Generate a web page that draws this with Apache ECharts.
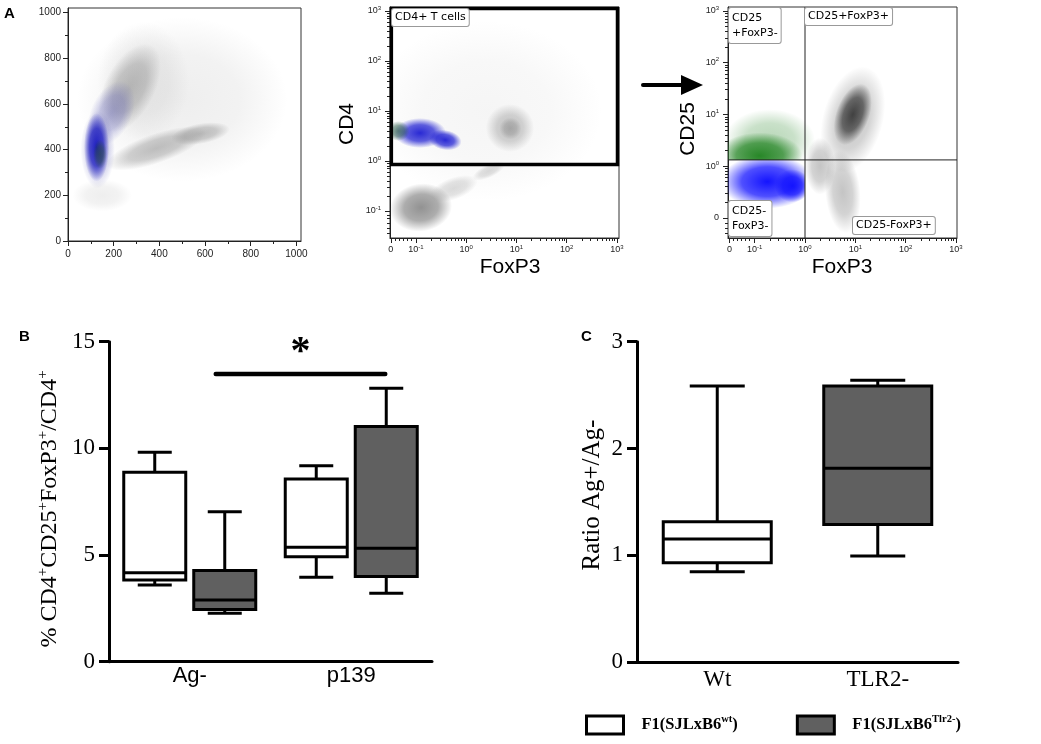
<!DOCTYPE html>
<html>
<head>
<meta charset="utf-8">
<script src="https://cdn.jsdelivr.net/npm/echarts@6/dist/echarts.min.js"></script>
<style>
	html, body { margin: 0; padding: 0; background: #fff; }
	#main { width: 1041px; height: 744px; }
</style>
</head>
<body>
<div id="main"></div>
<script>
	const SANS = 'Liberation Sans, Arial, sans-serif';
	const SERIF = 'Liberation Serif, Times New Roman, serif';
	const FLOW = 'DejaVu Sans, Verdana, sans-serif';

	// ---- panel A: cell clouds, [x, y, rx, ry, tilt deg] in axis units
	// A1 is linear 0..1000, A2/A3 are in decades (0 = 10^0)
	const a1Haze = [[500, 620, 460, 360, 0], [330, 700, 200, 260, 0], [150, 200, 130, 70, 0]];
	const a1Gray = [[270, 670, 110, 210, -27], [385, 405, 230, 65, 19], [580, 470, 130, 45, 10]];
	const a1BlueHalo = [[190, 560, 90, 150, -25], [130, 400, 75, 170, 0]];
	const a1Blue = [[125, 410, 55, 150, 0]];
	const a1Green = [[140, 380, 30, 65, 0]];

	const a2Haze = [[0.4, 1.0, 2.3, 1.8, 0]];
	const a2Neg = [[-0.9, -0.93, 0.62, 0.48, 8]];
	const a2NegTail = [[-0.25, -0.55, 0.5, 0.22, 20], [0.45, -0.2, 0.35, 0.13, 25]];
	const a2Blue = [[-0.92, 0.56, 0.52, 0.3, 0], [-0.42, 0.42, 0.33, 0.2, -10]];
	const a2Teal = [[-1.35, 0.6, 0.22, 0.2, 0]];
	const a2Pos = [[0.87, 0.66, 0.48, 0.48, 0], [0.88, 0.65, 0.22, 0.22, 0]];

	const a3Blue = [[-0.75, -0.3, 0.92, 0.52, 0], [-0.25, -0.38, 0.35, 0.32, 0]];
	const a3Green = [[-0.9, 0.2, 0.85, 0.45, 0]];
	const a3GreenHalo = [[-0.7, 0.5, 0.9, 0.6, 0]];
	const a3Black = [[0.95, 1.0, 0.33, 0.62, -20]];
	const a3BlackHalo = [[0.95, 0.9, 0.6, 1.05, -15], [0.75, -0.5, 0.35, 0.8, 5], [0.3, 0.0, 0.3, 0.55, 0]];

	// gates
	const a2Gate = [[-1.52, -0.1, 3.04, 3.08]];
	const a3Quad = [[0, 0.12]];

	// axis ticks
	const a1Ticks = [0, 200, 400, 600, 800, 1000];
	const a1Minor = [100, 300, 500, 700, 900];
	const logVals = [-1.5, -1, 0, 1, 2, 3];
	const logText = ['0', '-1', '0', '1', '2', '3'];
	const a2yVals = [-1, 0, 1, 2, 3];
	const a2yText = ['-1', '0', '1', '2', '3'];
	const a3yVals = [-1, 0, 1, 2, 3];
	const a3yText = ['0', '0', '1', '2', '3'];

	// ---- panel B: [category, min, q1, median, q3, max]
	const bCats = ['Ag-', 'p139'];
	const bTicks = [0, 5, 10, 15];
	const bWt = [[0, 3.6, 3.83, 4.17, 8.88, 9.82], [1, 3.96, 4.92, 5.36, 8.56, 9.19]];
	const bTlr2 = [[0, 2.27, 2.45, 2.89, 4.27, 7.03], [1, 3.21, 3.99, 5.32, 11.02, 12.82]];
	const bSig = [[0, 1, 13.49]];

	// ---- panel C
	const cCats = ['Wt', 'TLR2-'];
	const cTicks = [0, 1, 2, 3];
	const cWt = [[0, 0.848, 0.932, 1.153, 1.315, 2.585]];
	const cTlr2 = [[1, 0.994, 1.29, 1.815, 2.585, 2.64]];

	let chart = echarts.init(document.getElementById('main'));

	function logMinor(from, to, extra) {
		let out = extra.slice();
		for (let d = from; d < to; d++) {
			for (let k = 2; k < 10; k++) out.push(d + Math.log10(k));
		}
		return out;
	}

	function pick(vals, texts, is0) {
		return v => {
			let i = vals.findIndex(t => Math.abs(t - v) < 1e-6);
			if (i < 0) return '';
			if (is0 && is0(vals[i])) return '{m|0}';
			return '{m|10}{e|' + texts[i] + '}';
		};
	}

	const flowRich = {
		m: { fontSize: 9, fontFamily: SANS, color: '#222', lineHeight: 12 },
		e: { fontSize: 6, fontFamily: SANS, color: '#222', lineHeight: 6, verticalAlign: 'top' }
	};

	// major + minor axis pair for one side of a flow plot
	function flowAxes(grid, pos, min, max, labelVals, fmt, minor, margin, rich) {
		let major = {
			type: 'value', gridIndex: grid, position: pos, min: min, max: max,
			axisLine: { show: true, onZero: false, lineStyle: { color: '#222', width: 1 } },
			axisTick: { show: true, length: 5, customValues: labelVals, lineStyle: { color: '#222' } },
			axisLabel: { show: true, customValues: labelVals, formatter: fmt, margin: margin,
				fontSize: 10, fontFamily: SANS, color: '#222', rich: rich },
			splitLine: { show: false }
		};
		let minorAxis = {
			type: 'value', gridIndex: grid, position: pos, min: min, max: max,
			axisLine: { show: false, onZero: false },
			axisTick: { show: true, length: 3, customValues: minor, lineStyle: { color: '#222' } },
			axisLabel: { show: false },
			splitLine: { show: false }
		};
		return [major, minorAxis];
	}

	function rgba(rgb, a) {
		return 'rgba(' + rgb + ',' + a + ')';
	}

	// soft elliptical cloud for every [x, y, rx, ry, tilt] row
	function cloud(data, axis, rgb, alpha, clip) {
		return {
			type: 'custom', xAxisIndex: axis, yAxisIndex: axis, data: data, silent: true, clip: true, z: 1,
			renderItem(params, api) {
				let c = api.coord([api.value(0), api.value(1)]);
				let s = api.size([api.value(2), api.value(3)]);
				let el = {
					type: 'circle', x: c[0], y: c[1], scaleX: s[0], scaleY: s[1],
					rotation: api.value(4) * Math.PI / 180,
					shape: { cx: 0, cy: 0, r: 1 },
					style: {
						fill: {
							type: 'radial', x: 0.5, y: 0.5, r: 0.5,
							colorStops: [
								{ offset: 0, color: rgba(rgb, alpha) },
								{ offset: 0.55, color: rgba(rgb, alpha * 0.75) },
								{ offset: 1, color: rgba(rgb, 0) }
							]
						}
					}
				};
				if (!clip) return el;
				let p0 = api.coord(clip[0]);
				let p1 = api.coord(clip[1]);
				return {
					type: 'group',
					clipPath: { type: 'rect', shape: {
						x: Math.min(p0[0], p1[0]), y: Math.min(p0[1], p1[1]),
						width: Math.abs(p1[0] - p0[0]), height: Math.abs(p1[1] - p0[1]) } },
					children: [el]
				};
			}
		};
	}

	// box & whiskers drawn through the category / value scales
	function boxes(name, data, axis, offset, boxW, capW, fill) {
		return {
			type: 'custom', name: name, xAxisIndex: axis, yAxisIndex: axis, data: data, z: 3,
			itemStyle: { color: fill, borderColor: '#000', borderWidth: 3 },
			encode: { x: 0, y: [1, 2, 3, 4, 5] },
			renderItem(params, api) {
				let x = api.coord([api.value(0), 0])[0] + offset;
				let y = [1, 2, 3, 4, 5].map(i => api.coord([api.value(0), api.value(i)])[1]);
				let ln = { stroke: '#000', lineWidth: 3 };
				return {
					type: 'group',
					children: [
						{ type: 'line', shape: { x1: x, y1: y[4], x2: x, y2: y[3] }, style: ln },
						{ type: 'line', shape: { x1: x - capW / 2, y1: y[4], x2: x + capW / 2, y2: y[4] }, style: ln },
						{ type: 'line', shape: { x1: x, y1: y[0], x2: x, y2: y[1] }, style: ln },
						{ type: 'line', shape: { x1: x - capW / 2, y1: y[0], x2: x + capW / 2, y2: y[0] }, style: ln },
						{ type: 'rect', shape: { x: x - boxW / 2, y: y[3], width: boxW, height: y[1] - y[3] },
							style: { fill: fill, stroke: '#000', lineWidth: 3 } },
						{ type: 'line', shape: { x1: x - boxW / 2, y1: y[2], x2: x + boxW / 2, y2: y[2] }, style: ln }
					]
				};
			}
		};
	}

	let a1x = flowAxes(0, 'bottom', 0, 1020, a1Ticks, v => String(v), a1Minor, 8, null);
	let a1y = flowAxes(0, 'left', 0, 1020, a1Ticks, v => String(v), a1Minor, 7, null);
	let a2x = flowAxes(1, 'bottom', -1.517, 3.04, logVals, pick(logVals, logText, v => v < -1.2), logMinor(-1, 3, [-1.42, -1.34, -1.26, -1.18, -1.1]), 6, flowRich);
	let a2y = flowAxes(1, 'left', -1.54, 3.08, a2yVals, pick(a2yVals, a2yText), logMinor(-1, 3, [-1.45, -1.35, -1.25, -1.15, -1.08]), 9, flowRich);
	let a3x = flowAxes(2, 'bottom', -1.53, 3.02, logVals, pick(logVals, logText, v => v < -1.2), logMinor(-1, 3, [-1.42, -1.34, -1.26, -1.18, -1.1]), 6, flowRich);
	let a3y = flowAxes(2, 'left', -1.39, 3.077, a3yVals, pick(a3yVals, a3yText, v => v < -0.5), logMinor(-1, 3, [-1.3, -1.2, -1.1]), 9, flowRich);

	const boxAxisLine = { show: true, lineStyle: { color: '#000', width: 3 } };

	let option = {
		backgroundColor: '#fff',
		animation: false,
		grid: [
			{ left: 68, top: 8, width: 233, height: 233, show: true, borderColor: '#333', borderWidth: 1 },
			{ left: 390, top: 7, width: 229, height: 231, show: true, borderColor: '#333', borderWidth: 1 },
			{ left: 728, top: 7, width: 229, height: 231, show: true, borderColor: '#333', borderWidth: 1 },
			{ left: 109, top: 341.7, width: 323, height: 320 },
			{ left: 637, top: 341.7, width: 321, height: 320.6 }
		],
		xAxis: [
			...a1x, ...a2x, ...a3x,
			{
				type: 'category', gridIndex: 3, data: bCats,
				axisLine: boxAxisLine, axisTick: { show: false },
				axisLabel: { fontSize: 22, fontFamily: SANS, color: '#000', margin: 3 }
			},
			{
				type: 'category', gridIndex: 4, data: cCats,
				axisLine: boxAxisLine, axisTick: { show: false },
				axisLabel: { fontSize: 23, fontFamily: SERIF, color: '#000', margin: 6 }
			}
		],
		yAxis: [
			...a1y, ...a2y, ...a3y,
			{
				type: 'value', gridIndex: 3, min: 0, max: 15,
				axisLine: boxAxisLine,
				axisTick: { show: true, length: 10, customValues: bTicks, lineStyle: { color: '#000', width: 3 } },
				axisLabel: { customValues: bTicks, fontSize: 23, fontFamily: SERIF, color: '#000', margin: 14 },
				splitLine: { show: false }
			},
			{
				type: 'value', gridIndex: 4, min: 0, max: 3,
				axisLine: boxAxisLine,
				axisTick: { show: true, length: 10, customValues: cTicks, lineStyle: { color: '#000', width: 3 } },
				axisLabel: { customValues: cTicks, fontSize: 23, fontFamily: SERIF, color: '#000', margin: 14 },
				splitLine: { show: false }
			}
		],
		legend: {
			left: 580, top: 709, itemWidth: 37, itemHeight: 18, itemGap: 58,
			selectedMode: false,
			data: [
				{ name: 'wt', icon: 'rect', itemStyle: { color: '#fff', borderColor: '#000', borderWidth: 3 } },
				{ name: 'tlr2', icon: 'rect', itemStyle: { color: '#606060', borderColor: '#000', borderWidth: 3 } }
			],
			formatter: n => n === 'wt' ? '{f|F1(SJLxB6}{s|wt}{t|)}' : '{f|F1(SJLxB6}{s|Tlr2-}{t|)}',
			textStyle: {
				rich: {
					f: { fontFamily: SERIF, fontWeight: 'bold', fontSize: 16.5, color: '#000', lineHeight: 22, padding: [0, 0, 0, 13] },
					t: { fontFamily: SERIF, fontWeight: 'bold', fontSize: 16.5, color: '#000', lineHeight: 22 },
					s: { fontFamily: SERIF, fontWeight: 'bold', fontSize: 10.5, color: '#000', lineHeight: 12, verticalAlign: 'top' }
				}
			}
		},
		series: [
			// A1 (axis index 0 = major axes of grid 0)
			cloud(a1Haze, 0, '150,150,150', 0.16),
			cloud(a1Gray, 0, '120,120,120', 0.45),
			cloud(a1BlueHalo, 0, '60,60,170', 0.35),
			cloud(a1Blue, 0, '20,20,190', 0.95),
			cloud(a1Green, 0, '40,80,40', 0.55),
			// A2
			cloud(a2Haze, 2, '160,160,160', 0.1),
			cloud(a2Neg, 2, '140,140,140', 0.95),
			cloud(a2NegTail, 2, '150,150,150', 0.35),
			cloud(a2Pos, 2, '130,130,130', 0.45),
			cloud(a2Blue, 2, '30,30,210', 0.95),
			cloud(a2Teal, 2, '40,90,70', 0.7),
			// A3
			cloud(a3GreenHalo, 4, '50,140,50', 0.35, [[-1.6, 0.12], [0.3, 3.1]]),
			cloud(a3Green, 4, '40,135,40', 1, [[-1.6, 0.12], [0.3, 3.1]]),
			cloud(a3Blue, 4, '20,20,255', 1, [[-1.6, 0.12], [0, -1.4]]),
			cloud(a3BlackHalo, 4, '60,60,60', 0.3),
			cloud(a3Black, 4, '20,20,20', 0.75),
			{
				type: 'custom', xAxisIndex: 2, yAxisIndex: 2, data: a2Gate, silent: true, z: 5,
				renderItem(params, api) {
					let p0 = api.coord([api.value(0), api.value(1)]);
					let p1 = api.coord([api.value(2), api.value(3)]);
					return {
						type: 'rect',
						shape: { x: p0[0] + 1.5, y: p1[1] + 1.5, width: p1[0] - p0[0] - 3, height: p0[1] - p1[1] - 3 },
						style: { fill: 'none', stroke: '#000', lineWidth: 3.5 }
					};
				}
			},
			{
				type: 'custom', xAxisIndex: 4, yAxisIndex: 4, data: a3Quad, silent: true, z: 5,
				renderItem(params, api) {
					let c = api.coord([api.value(0), api.value(1)]);
					let lo = api.coord([-1.53, -1.39]);
					let hi = api.coord([3.02, 3.077]);
					let st = { stroke: '#222', lineWidth: 1 };
					return {
						type: 'group',
						children: [
							{ type: 'line', shape: { x1: c[0], y1: lo[1], x2: c[0], y2: hi[1] }, style: st },
							{ type: 'line', shape: { x1: lo[0], y1: c[1], x2: hi[0], y2: c[1] }, style: st }
						]
					};
				}
			},
			// B
			boxes('wt', bWt, 6, -35, 62, 34, '#fff'),
			boxes('tlr2', bTlr2, 6, 35, 62, 34, '#606060'),
			{
				type: 'custom', xAxisIndex: 6, yAxisIndex: 6, data: bSig, silent: true, z: 3,
				renderItem(params, api) {
					let a = api.coord([api.value(0), api.value(2)]);
					let b = api.coord([api.value(1), api.value(2)]);
					let x0 = a[0] + 26;
					let x1 = b[0] + 34;
					return {
						type: 'group',
						children: [
							{ type: 'line', shape: { x1: x0, y1: a[1], x2: x1, y2: a[1] },
								style: { stroke: '#000', lineWidth: 4.5, lineCap: 'round' } },
							{ type: 'text', x: (x0 + x1) / 2, y: a[1] - 41,
								style: { text: '*', font: 'bold 40px ' + SERIF, fill: '#000', align: 'center', verticalAlign: 'top' } }
						]
					};
				}
			},
			// C
			boxes('wt', cWt, 7, 0, 108, 55, '#fff'),
			boxes('tlr2', cTlr2, 7, 0, 108, 55, '#606060')
		],
		graphic: [
			{ type: 'text', left: 4, top: 6, style: { text: 'A', font: 'bold 15px ' + SANS, fill: '#000' } },
			{ type: 'text', left: 19, top: 329, style: { text: 'B', font: 'bold 15px ' + SANS, fill: '#000' } },
			{ type: 'text', left: 581, top: 329, style: { text: 'C', font: 'bold 15px ' + SANS, fill: '#000' } },
			{ type: 'text', x: 347, y: 124, rotation: Math.PI / 2,
				style: { text: 'CD4', font: '21px ' + SANS, fill: '#000', align: 'center', verticalAlign: 'middle' } },
			{ type: 'text', x: 510, y: 267,
				style: { text: 'FoxP3', font: '21px ' + SANS, fill: '#000', align: 'center', verticalAlign: 'middle' } },
			{ type: 'text', x: 688, y: 129, rotation: Math.PI / 2,
				style: { text: 'CD25', font: '21px ' + SANS, fill: '#000', align: 'center', verticalAlign: 'middle' } },
			{ type: 'text', x: 842, y: 267,
				style: { text: 'FoxP3', font: '21px ' + SANS, fill: '#000', align: 'center', verticalAlign: 'middle' } },
			// gate names
			{ type: 'text', x: 392, y: 9, z: 10,
				style: { text: 'CD4+ T cells', font: '11px ' + FLOW, fill: '#000', backgroundColor: '#fff',
					borderColor: '#999', borderWidth: 1, borderRadius: 2, padding: [3, 3, 3, 3] } },
			{ type: 'text', x: 729, y: 8, z: 10,
				style: { text: 'CD25\n+FoxP3-', font: '11px ' + FLOW, lineHeight: 15, fill: '#000', backgroundColor: '#fff',
					borderColor: '#999', borderWidth: 1, borderRadius: 2, padding: [3, 3, 2, 3] } },
			{ type: 'text', x: 805, y: 8, z: 10,
				style: { text: 'CD25+FoxP3+', font: '11px ' + FLOW, fill: '#000', backgroundColor: '#fff',
					borderColor: '#999', borderWidth: 1, borderRadius: 2, padding: [3, 3, 3, 3] } },
			{ type: 'text', x: 729, y: 201, z: 10,
				style: { text: 'CD25-\nFoxP3-', font: '11px ' + FLOW, lineHeight: 15, fill: '#000', backgroundColor: '#fff',
					borderColor: '#999', borderWidth: 1, borderRadius: 2, padding: [3, 3, 2, 3] } },
			{ type: 'text', x: 853, y: 217, z: 10,
				style: { text: 'CD25-FoxP3+', font: '11px ' + FLOW, fill: '#000', backgroundColor: '#fff',
					borderColor: '#999', borderWidth: 1, borderRadius: 2, padding: [3, 3, 3, 3] } },
			// arrow between the gates
			{ type: 'line', shape: { x1: 643, y1: 85, x2: 684, y2: 85 }, style: { stroke: '#000', lineWidth: 4, lineCap: 'round' } },
			{ type: 'polygon', shape: { points: [[681, 75], [703, 85], [681, 95]] }, style: { fill: '#000' } },
			// box plot axis names
			{ type: 'text', x: 50, y: 509, rotation: Math.PI / 2,
				style: {
					text: '{n|% CD4}{s|+}{n|CD25}{s|+}{n|FoxP3}{s|+}{n|/CD4}{s|+}',
					align: 'center', verticalAlign: 'middle',
					rich: {
						n: { fontFamily: SERIF, fontSize: 24, fill: '#000', lineHeight: 28 },
						s: { fontFamily: SERIF, fontSize: 15, fill: '#000', lineHeight: 15, verticalAlign: 'top' }
					}
				} },
			{ type: 'text', x: 592, y: 495, rotation: Math.PI / 2,
				style: { text: 'Ratio Ag+/Ag-', font: '25px ' + SERIF, fill: '#000', align: 'center', verticalAlign: 'middle' } }
		]
	};

	chart.setOption(option);
</script>
</body>
</html>
